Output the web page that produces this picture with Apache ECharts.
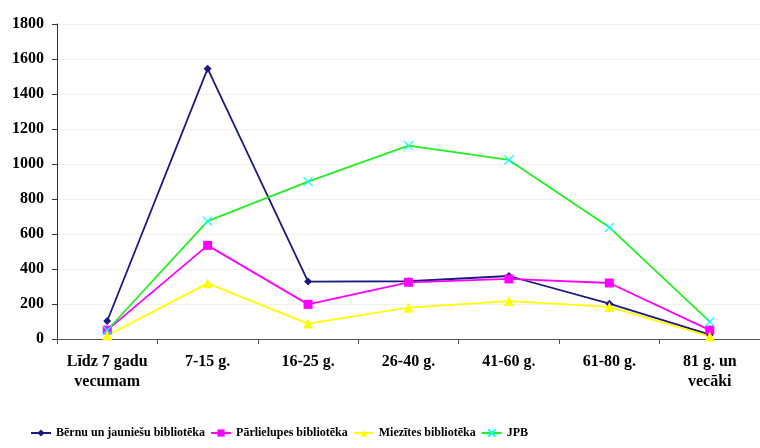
<!DOCTYPE html>
<html><head><meta charset="utf-8">
<script src="https://cdn.jsdelivr.net/npm/echarts@6/dist/echarts.min.js"></script>
<style>html,body{margin:0;padding:0;background:#fff}#c{width:760px;height:448px}</style>
</head><body><div id="c"></div>
<script>
const categories = ['Līdz 7 gadu\nvecumam','7-15 g.','16-25 g.','26-40 g.','41-60 g.','61-80 g.','81 g. un\nvecāki'];
const seriesNames = ['Bērnu un jauniešu bibliotēka','Pārlielupes bibliotēka','Miezītes bibliotēka','JPB'];
const bernu = [103, 1545, 328, 330, 360, 202, 25];
const parlielupes = [51, 535, 198, 324, 343, 320, 51];
const miezites = [20, 318, 88, 179, 217, 183, 15];
const jpb = [50, 674, 899, 1105, 1023, 638, 99];
const yTicks = [0, 200, 400, 600, 800, 1000, 1200, 1400, 1600, 1800];

const font = 'Liberation Serif, Times New Roman, serif';
const chart = echarts.init(document.getElementById('c'));
function ser(name, data, color, symbol, size, mcolor) {
  return {
    name, type: 'line', data, symbol, symbolSize: size,
    lineStyle: { color, width: 1.8 },
    itemStyle: { color: mcolor || color, borderColor: mcolor || color, borderWidth: symbol.startsWith('path') ? 1.2 : 0 },
    emphasis: { disabled: true }, animation: false
  };
}
chart.setOption({
  animation: false,
  grid: { left: 57, top: 24, width: 707, height: 315 },
  legend: {
    left: 25, top: 422, width: 1200, itemWidth: 20, itemHeight: 9, itemGap: 5,
    textStyle: { fontFamily: font, fontWeight: 'bold', fontSize: 12, color: '#000' },
    data: seriesNames
  },
  xAxis: {
    type: 'category', data: categories, boundaryGap: true,
    axisLine: { lineStyle: { color: '#555', width: 1 } },
    axisTick: { show: true, length: 5, lineStyle: { color: '#555' } },
    axisLabel: { fontFamily: font, fontWeight: 'bold', fontSize: 16, color: '#000', margin: 13, lineHeight: 20, interval: 0 }
  },
  yAxis: {
    type: 'value', min: yTicks[0], max: yTicks[yTicks.length-1], interval: 200,
    axisLine: { show: true, lineStyle: { color: '#333', width: 1 } },
    axisTick: { show: true, length: 5, inside: false, lineStyle: { color: '#333' } },
    axisLabel: { fontFamily: font, fontWeight: 'bold', fontSize: 16, color: '#000', margin: 13, formatter: v => String(v) },
    splitLine: { lineStyle: { color: '#f0f0f0', width: 1 } }
  },
  series: [
    ser(seriesNames[0], bernu, '#1a1a80', 'diamond', 8),
    ser(seriesNames[1], parlielupes, '#ff00ff', 'rect', 9),
    ser(seriesNames[2], miezites, '#ffff00', 'triangle', 10),
    ser(seriesNames[3], jpb, '#22ee22', 'path://M0,0L10,10M10,0L0,10', 9, '#00ffff')
  ]
});
</script></body></html>
